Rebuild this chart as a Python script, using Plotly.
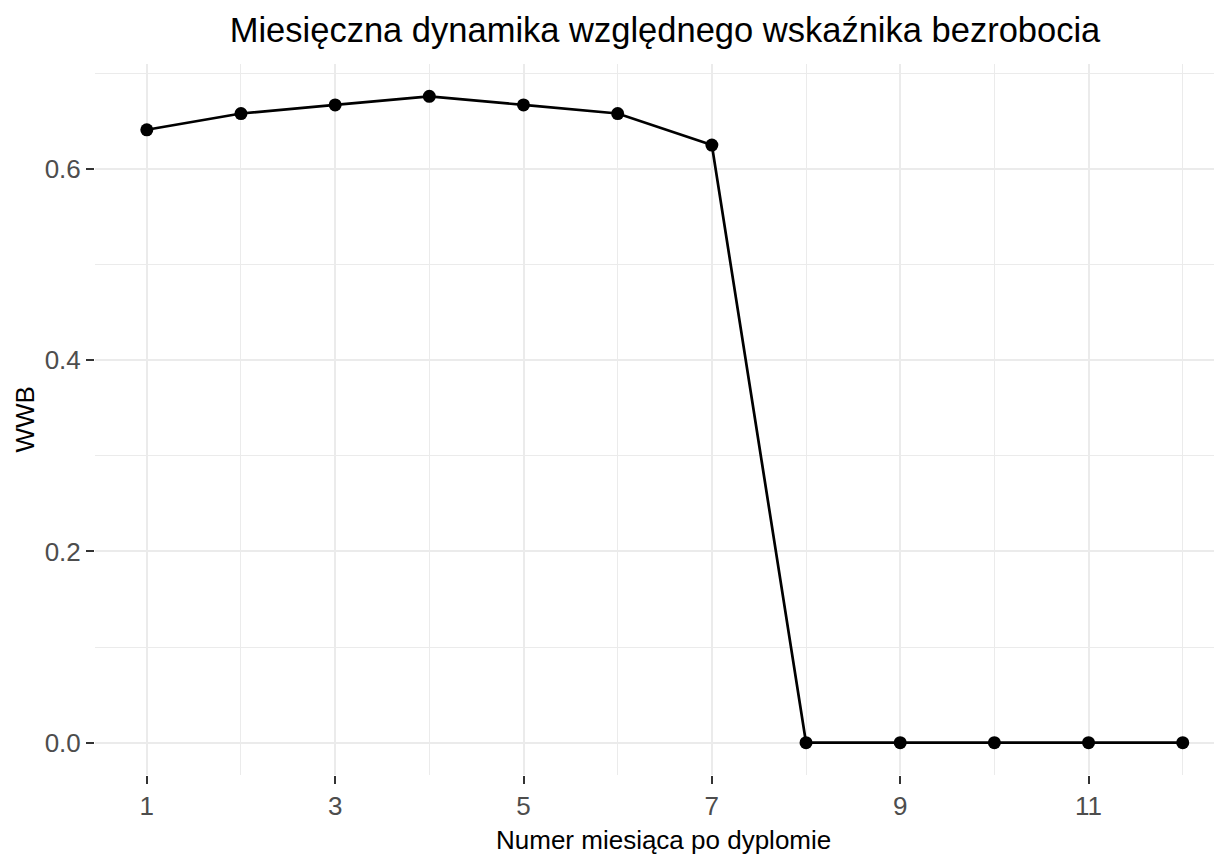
import plotly.graph_objects as go

months = list(range(1, 13))
wwb = [0.641, 0.658, 0.667, 0.676, 0.667, 0.658, 0.625, 0.0, 0.0, 0.0, 0.0, 0.0]
x_ticks = [1, 3, 5, 7, 9, 11]
y_ticks = [0.0, 0.2, 0.4, 0.6]
y_tick_labels = ["0.0", "0.2", "0.4", "0.6"]

title_text = "Miesięczna dynamika względnego wskaźnika bezrobocia"
x_title = "Numer miesiąca po dyplomie"
y_title = "WWB"

FONT = "Liberation Sans, Arial, sans-serif"
GRID = "#EBEBEB"

fig = go.Figure()
fig.add_trace(go.Scatter(
    x=months, y=wwb, mode="lines+markers",
    line=dict(color="black", width=2.7),
    marker=dict(color="black", size=13),
    showlegend=False, hoverinfo="skip",
))

# page body has an 8px default margin; figure sized to fill the rest
W, H = 1214, 849
L, R, T, B = 87, 0, 56, 82
pw = W - L - R
ph = H - T - B

fig.update_layout(
    width=W, height=H,
    margin=dict(l=L, r=R, t=T, b=B, pad=0),
    paper_bgcolor="white", plot_bgcolor="white",
    font=dict(family=FONT, color="black"),
    title=dict(text=title_text, font=dict(size=34.5, color="black", family=FONT),
               xref="paper", x=(657 - L) / pw, xanchor="center",
               yref="container", y=1 - 22 / H, yanchor="middle"),
)

fig.update_xaxes(
    range=[0.45, 12.417],
    tickvals=x_ticks, ticktext=[str(v) for v in x_ticks],
    showgrid=True, gridcolor=GRID, gridwidth=2,
    minor=dict(tick0=0, dtick=1, showgrid=True, gridcolor=GRID, gridwidth=1),
    zeroline=False, showline=False,
    ticks="outside", ticklen=8, tickwidth=2, tickcolor="#333333",
    tickfont=dict(size=26, color="#4D4D4D", family=FONT),
)
fig.update_yaxes(
    range=[-0.0338, 0.7098],
    tickvals=y_ticks, ticktext=y_tick_labels,
    showgrid=True, gridcolor=GRID, gridwidth=2,
    minor=dict(tick0=0, dtick=0.1, showgrid=True, gridcolor=GRID, gridwidth=1),
    zeroline=False, showline=False,
    ticks="outside", ticklen=8, tickwidth=2, tickcolor="#333333",
    tickfont=dict(size=26, color="#4D4D4D", family=FONT),
)

fig.add_annotation(text=x_title, xref="paper", yref="paper",
                   x=(655 - L) / pw, y=-(832 - (H - B)) / ph,
                   xanchor="center", yanchor="middle", showarrow=False,
                   font=dict(size=26, color="black", family=FONT))
fig.add_annotation(text=y_title, xref="paper", yref="paper",
                   x=(16 - L) / pw, y=0.5, textangle=-90,
                   xanchor="center", yanchor="middle", showarrow=False,
                   font=dict(size=26, color="black", family=FONT))

fig.write_html("out.html")
